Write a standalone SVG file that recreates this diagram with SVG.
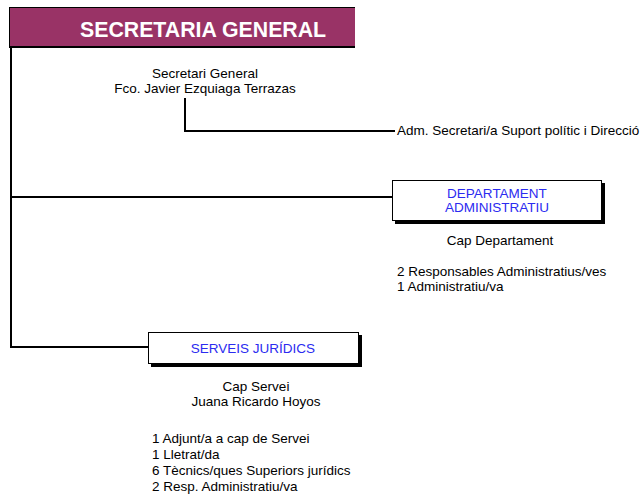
<svg xmlns="http://www.w3.org/2000/svg" width="643" height="501" viewBox="0 0 643 501">
<style>
text{font-family:"Liberation Sans",Arial,sans-serif;font-size:13.5px;fill:#000}
.t{fill:#fff;font-weight:bold;font-size:21.3px}
.b{fill:#2b2bf0}
.c{text-anchor:middle}
.ln{stroke:#000;stroke-width:2;fill:none}
.box{fill:#fff;stroke:#000;stroke-width:1}
.sh{fill:#000}
</style>
<rect width="643" height="501" fill="#fff"/>
<g id="connectors">
<path class="ln" d="M11 46V348M10 197H392M10 347H148"/>
<path class="ln" d="M185 98V131H395"/>
</g>
<g id="secretaria-general">
<rect x="9" y="45" width="346" height="3" class="sh"/>
<rect x="9" y="7" width="346" height="39" fill="#993366"/>
<path d="M9 7.5H355M9.5 7V46" stroke="#000" stroke-width="1" fill="none"/>
<text class="t" x="80" y="37">SECRETARIA GENERAL</text>
</g>
<g id="secretari">
<text class="c" x="205" y="78">Secretari General</text>
<text class="c" x="205" y="93">Fco. Javier Ezquiaga Terrazas</text>
</g>
<g id="adm-secretari">
<text x="397" y="135">Adm. Secretari/a Suport polític i Direcció</text>
</g>
<g id="departament">
<rect x="395" y="183" width="210" height="41" class="sh"/>
<rect x="392.5" y="180.5" width="209" height="40" class="box"/>
<text class="c b" x="497" y="198">DEPARTAMENT</text>
<text class="c b" x="497" y="212">ADMINISTRATIU</text>
<text class="c" x="500" y="245">Cap Departament</text>
<text x="397" y="276">2 Responsables Administratius/ves</text>
<text x="397" y="291">1 Administratiu/va</text>
</g>
<g id="serveis-juridics">
<rect x="151" y="335" width="211" height="32" class="sh"/>
<rect x="148.5" y="332.5" width="210" height="31" class="box"/>
<text class="c b" x="253" y="353">SERVEIS JURÍDICS</text>
<text class="c" x="256" y="391">Cap Servei</text>
<text class="c" x="256" y="406">Juana Ricardo Hoyos</text>
<text x="152" y="443">1 Adjunt/a a cap de Servei</text>
<text x="152" y="459">1 Lletrat/da</text>
<text x="152" y="475">6 Tècnics/ques Superiors jurídics</text>
<text x="152" y="491">2 Resp. Administratiu/va</text>
</g>
</svg>
